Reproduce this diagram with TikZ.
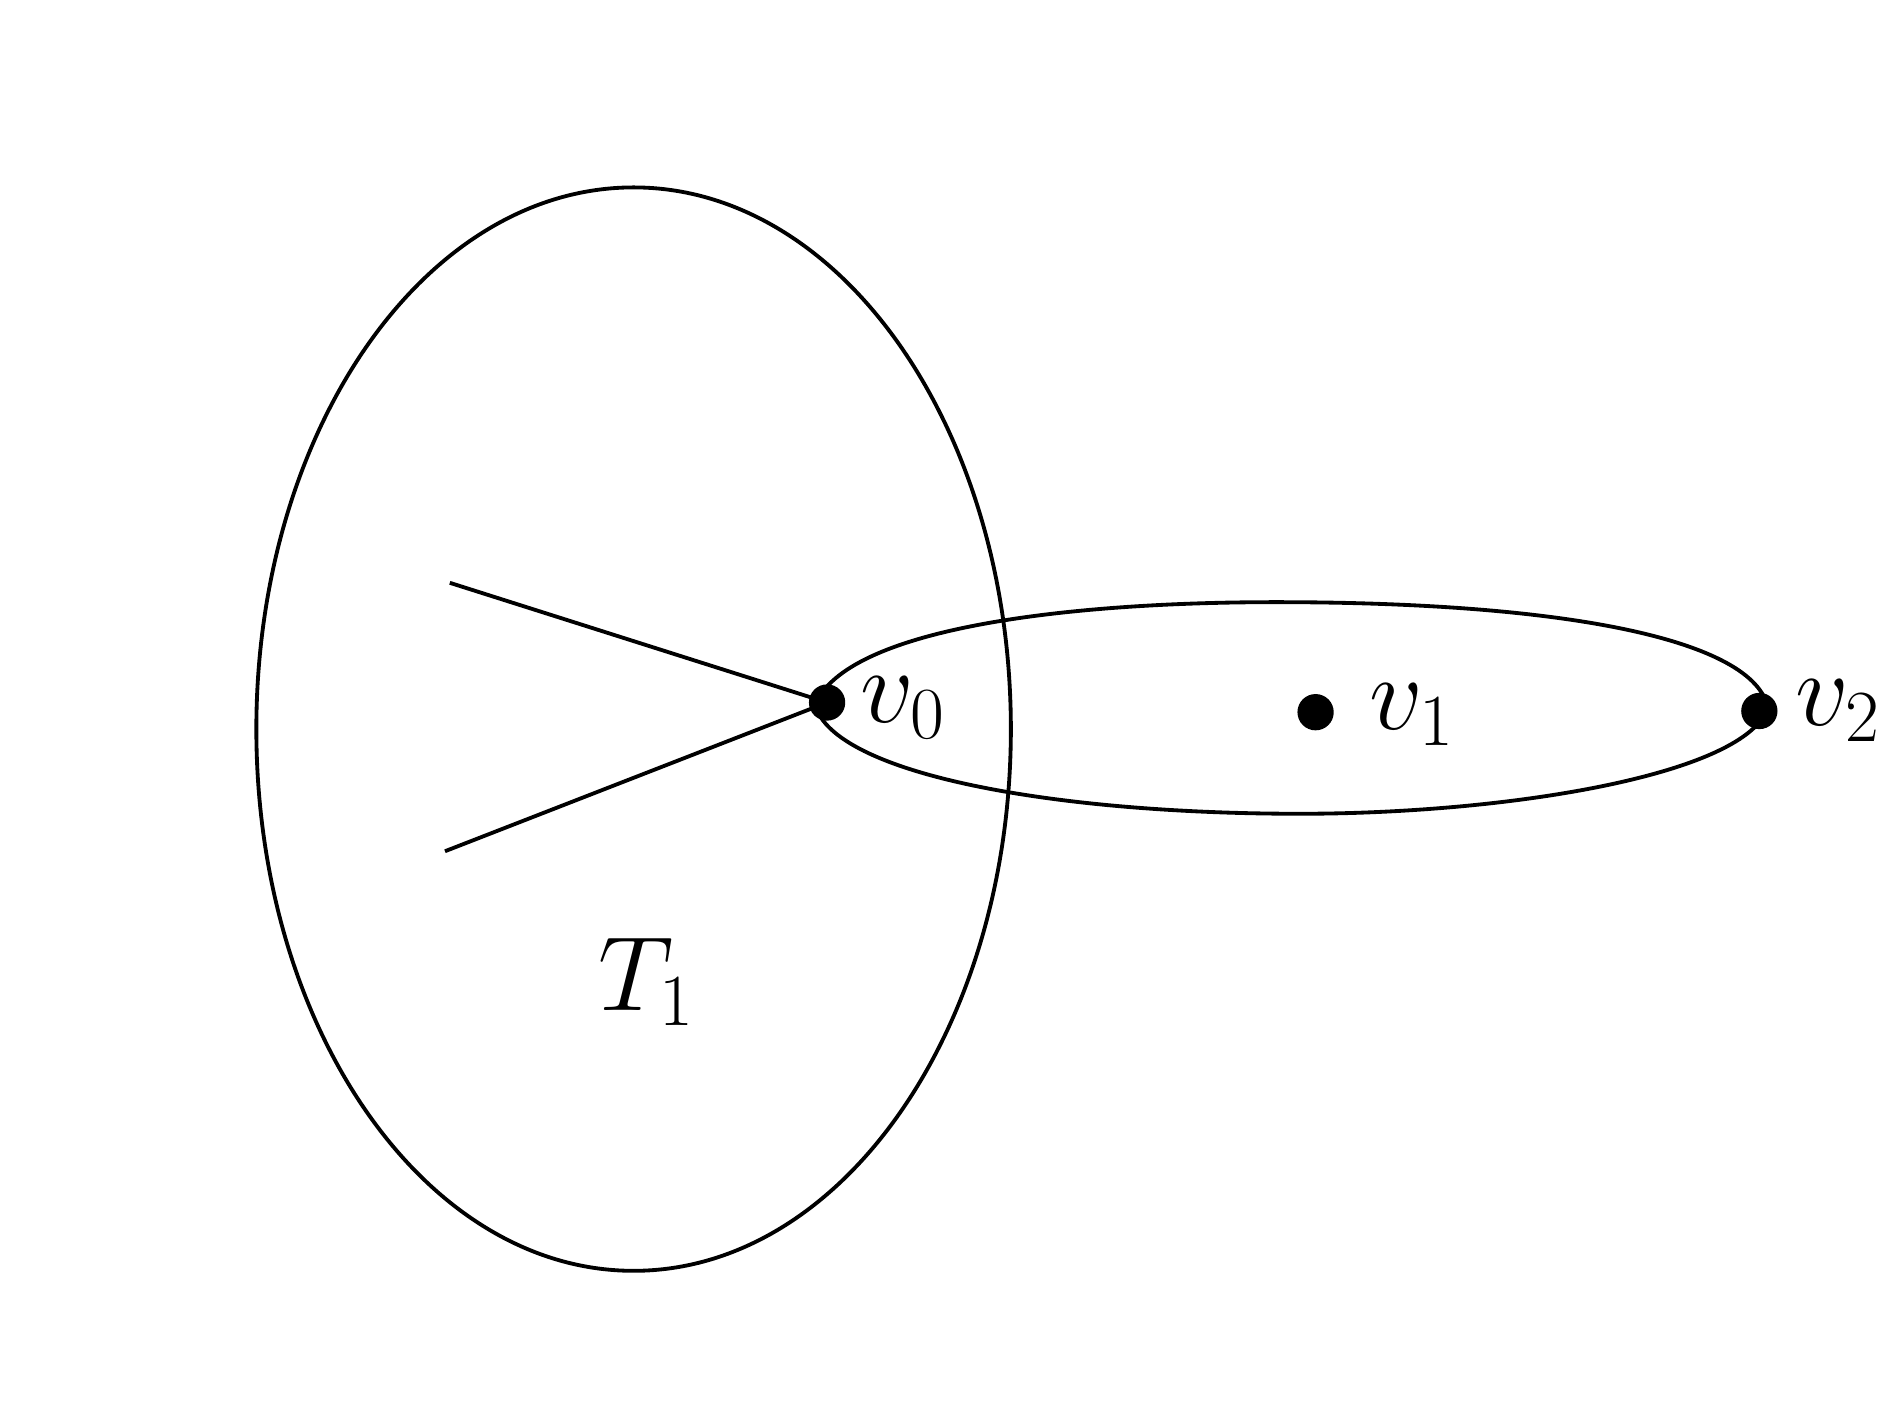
\documentclass[tikz,border=0pt]{standalone}
\begin{document}
\begin{tikzpicture}[x=0.01cm,y=-0.01cm,line width=0.9pt,
  dot/.style={circle,fill=black,inner sep=0pt,minimum size=0.3cm},
  lbl/.style={font=\fontsize{25}{30}\selectfont}]
\useasboundingbox (0,0) rectangle (1568,1177);
\draw (524,603) ellipse [x radius=312, y radius=448];
\node[dot] (v0) at (684,581) {};
\node[dot] (v1) at (1088,589) {};
\node[dot] (v2) at (1455,588) {};
\coordinate (a) at (372,482);
\coordinate (b) at (368,704);
\draw (a) -- (v0.center) -- (b);
\draw (674,583) .. controls (700,520) and (880,498) .. (1055,498)
  .. controls (1300,498) and (1450,530) .. (1462,585)
  .. controls (1445,640) and (1250,673) .. (1075,673)
  .. controls (870,673) and (690,640) .. (674,583) -- cycle;
\node[lbl] (l0) at (747,585) {$v_0$};
\node[lbl] (l1) at (1168,591) {$v_1$};
\node[lbl] (l2) at (1520,588) {$v_2$};
\node[lbl] (t1) at (535,812) {$T_1$};
\end{tikzpicture}
\end{document}
